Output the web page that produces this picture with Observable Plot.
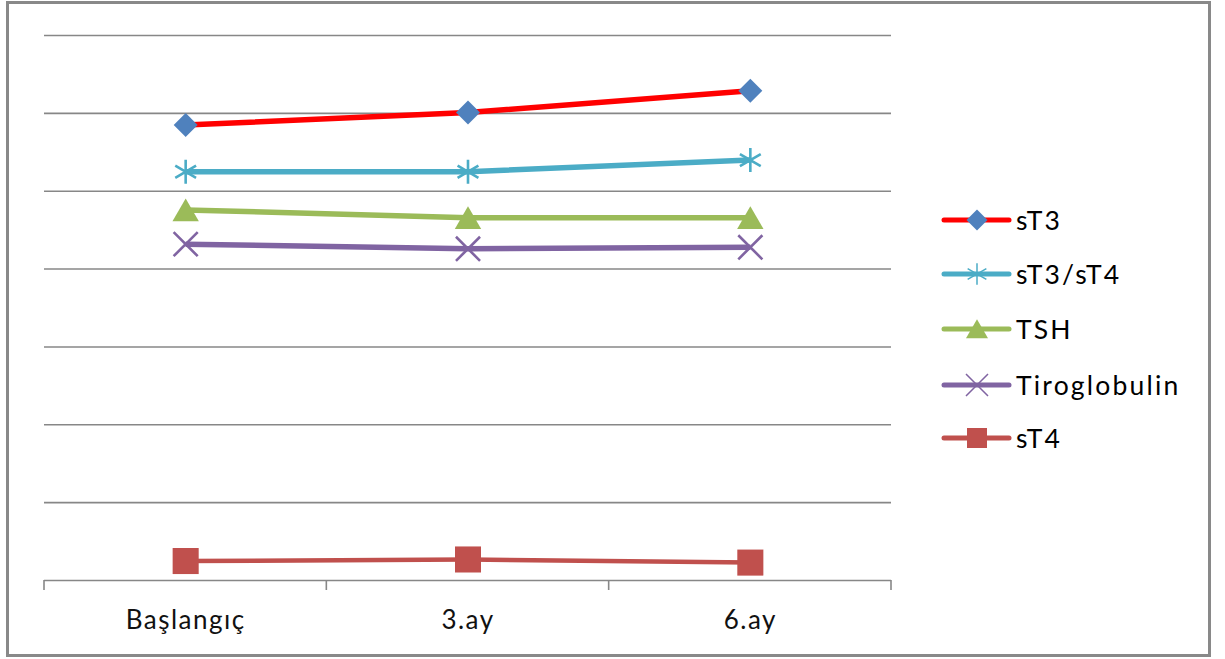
<!DOCTYPE html>
<html><head><meta charset="utf-8">
<script src="https://cdn.jsdelivr.net/npm/d3@7"></script>
<script src="https://cdn.jsdelivr.net/npm/@observablehq/plot@0.6"></script>
<style>
body{margin:0;background:#fff;}
#wrap{position:relative;width:1225px;height:659px;overflow:hidden;background:#fff;}
#chart{position:absolute;left:0;top:0;}
#frame{position:absolute;left:6px;top:1px;width:1205px;height:656px;border:3px solid #898989;box-sizing:border-box;pointer-events:none;}
#legend{position:absolute;left:0;top:0;width:1225px;height:659px;font-family:Lato,sans-serif;font-size:26.5px;letter-spacing:2.2px;color:#000;}
.row{position:absolute;left:941px;height:40px;display:flex;align-items:center;white-space:nowrap;}
.row svg{display:block;}
.row span{margin-left:3px;}
#chart g[aria-label="x-axis tick label"] text{letter-spacing:1.5px;}
</style></head><body>
<div id="wrap"><div id="chart"></div><div id="legend"></div><div id="frame"></div></div>
<script>
// ---- data ----
const categories = ["Başlangıç", "3.ay", "6.ay"];
const seriesNames = ["sT3", "sT3/sT4", "TSH", "Tiroglobulin", "sT4"];
const sT3 = [5.85, 6.01, 6.29];
const sT3sT4 = [5.25, 5.25, 5.40];
const TSH = [4.76, 4.66, 4.66];
const Tiroglobulin = [4.32, 4.26, 4.28];
const sT4 = [0.25, 0.27, 0.23];
const gridValues = [1, 2, 3, 4, 5, 6, 7];

const seriesValues = [sT3, sT3sT4, TSH, Tiroglobulin, sT4];

// ---- styles ----
const styles = {
  "sT3":          {line: "#FF0000", lw: 5.5, symbol: "diamond2", fill: "#4F81BD", stroke: "none", r: 10.8, sw: 0, dy: 0, legSym: d3.symbolDiamond2, legSize: 281},
  "sT3/sT4":      {line: "#4BACC6", lw: 5.5, symbol: "asterisk", fill: "none", stroke: "#4BACC6", r: 11.4, sw: 2.6, dy: 0, legSym: d3.symbolAsterisk, legSize: 330},
  "TSH":          {line: "#9BBB59", lw: 5.5, symbol: "triangle", fill: "#9BBB59", stroke: "none", r: 9.8, sw: 0, dy: 3.8, legSym: d3.symbolTriangle, legSize: 210},
  "Tiroglobulin": {line: "#8064A2", lw: 5.5, symbol: "times", fill: "none", stroke: "#8064A2", r: 11, sw: 2.6, dy: 0, legSym: d3.symbolTimes, legSize: 318},
  "sT4":          {line: "#C0504D", lw: 4.5, symbol: "square", fill: "#C0504D", stroke: "none", r: 14.7, sw: 0, dy: 0, legSym: d3.symbolSquare, legSize: 400}
};

const rows = seriesNames.map((name, k) =>
  categories.map((c, i) => ({series: name, cat: c, value: seriesValues[k][i]})));

const seriesMarks = [];
rows.forEach((data, k) => {
  const s = styles[seriesNames[k]];
  seriesMarks.push(Plot.line(data, {x: "cat", y: "value", stroke: s.line, strokeWidth: s.lw, strokeLinejoin: "round", strokeLinecap: "butt"}));
  seriesMarks.push(Plot.dot(data, {x: "cat", y: "value", symbol: s.symbol, r: s.r, fill: s.fill, stroke: s.stroke, strokeWidth: s.sw, dy: s.dy}));
});

const chart = Plot.plot({
  width: 1225, height: 659,
  marginLeft: 44, marginRight: 334, marginTop: 35, marginBottom: 79,
  style: {fontFamily: "Lato, sans-serif", background: "transparent", overflow: "visible"},
  x: {type: "point", domain: categories, padding: 0.5, round: false, label: null},
  y: {domain: [0, 7], axis: null},
  marks: [
    Plot.gridY(gridValues, {stroke: "#878787", strokeOpacity: 1, strokeWidth: 1.6}),
    Plot.ruleY([0], {stroke: "#878787", strokeWidth: 1.6}),
    Plot.axisX({tickSize: 0, tickPadding: 30, fontSize: 26, color: "#111", label: null}),
    ...seriesMarks
  ]
});
document.getElementById("chart").appendChild(chart);

// category boundary ticks from the x scale
const sx = chart.scale("x"), sy = chart.scale("y");
const step = sx.apply(categories[1]) - sx.apply(categories[0]);
const edges = [sx.apply(categories[0]) - step / 2, ...categories.map(c => sx.apply(c) + step / 2)];
const y0 = sy.apply(0);
const tg = d3.select(chart).append("g").attr("stroke", "#878787").attr("stroke-width", 1.6);
edges.forEach(x => tg.append("line").attr("x1", x).attr("x2", x).attr("y1", y0).attr("y2", y0 + 10));

// legend
const legendCenters = [220, 274, 329, 385, 438];
const leg = d3.select("#legend");
seriesNames.forEach((name, i) => {
  const s = styles[name];
  const row = leg.append("div").attr("class", "row").style("top", (legendCenters[i] - 20) + "px");
  const svg = row.append("svg").attr("width", 72).attr("height", 40);
  svg.append("line").attr("x1", 3).attr("x2", 68).attr("y1", 20).attr("y2", 20)
    .attr("stroke", s.line).attr("stroke-width", 5).attr("stroke-linecap", "round");
  const dyL = name === "TSH" ? 3 : 0;
  svg.append("path").attr("d", d3.symbol(s.legSym, s.legSize)())
    .attr("transform", `translate(36,${20 + dyL})`)
    .attr("fill", s.fill).attr("stroke", s.stroke).attr("stroke-width", s.sw ? 1.5 : 0);
  row.append("span").text(name);
});
</script>
</body></html>
